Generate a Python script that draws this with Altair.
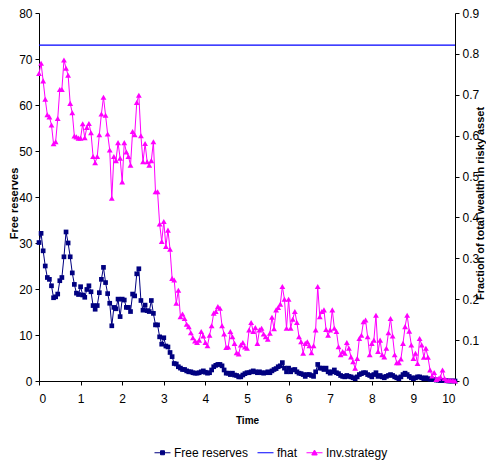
import altair as alt
import pandas as pd

time_step = 0.05

free_reserves = [
    30.1, 32.1, 28.3, 25.0, 22.5, 22.1, 20.7, 18.1, 18.3, 18.9,
    21.8, 22.5, 27.0, 32.4, 30.0, 27.0, 23.5, 21.0, 19.1, 18.8,
    20.5, 18.7, 18.2, 19.9, 20.7, 19.4, 16.4, 15.6, 16.4, 19.2,
    22.1, 24.7, 21.4, 19.0, 16.9, 12.0, 16.0, 15.7, 17.8, 14.0,
    17.8, 17.6, 16.0, 16.0, 15.1, 18.9, 18.5, 23.3, 24.4, 17.5,
    15.4, 16.5, 15.3, 15.1, 17.5, 14.7, 12.2, 12.2, 9.6, 8.0,
    9.4, 7.6, 7.4, 6.2, 5.3, 3.8, 3.7, 3.1, 2.8, 2.5,
    2.5, 2.2, 2.0, 2.0, 1.8, 1.7, 1.7, 1.8, 2.0, 2.2,
    1.9, 1.7, 1.8, 2.4, 3.1, 3.4, 3.6, 3.6, 3.3, 2.4,
    1.7, 1.7, 1.4, 1.7, 1.3, 1.2, 0.9, 0.9, 1.3, 1.6,
    1.8, 1.8, 2.0, 2.2, 2.0, 1.8, 2.0, 1.8, 1.7, 1.8,
    2.0, 1.8, 2.2, 2.5, 2.7, 3.1, 3.3, 4.0, 2.8, 2.0,
    2.8, 2.0, 2.4, 2.5, 2.0, 1.7, 1.6, 1.4, 1.0, 1.4,
    1.4, 1.2, 1.0, 2.0, 3.6,
    2.8, 2.8, 2.5, 2.8, 2.0, 1.7, 2.0, 2.4, 1.8, 1.6,
    1.2, 1.0, 0.9, 1.2, 1.0, 0.9, 0.7, 0.5, 0.9, 1.4,
    1.6, 1.8, 1.8, 1.4, 1.2, 0.9, 1.4, 1.8, 1.0, 1.2,
    0.9, 0.7, 1.0, 1.2, 1.4, 1.2, 0.9, 0.7, 0.5, 0.9,
    1.4, 1.7, 1.4, 1.0, 0.7, 0.5, 0.7, 0.9, 0.9, 0.7,
    0.5, 0.7, 0.5,
    0.4, 0.3, 0.3, 0.2, 0.2, 0.1, 0.1, 0.1, 0.05, 0.0,
    0.0, 0.0, 0.0,
]

inv_strategy = [
    0.752, 0.777, 0.734, 0.689, 0.651, 0.646, 0.626, 0.580, 0.585, 0.642,
    0.713, 0.713, 0.785, 0.765, 0.748, 0.679, 0.656, 0.599, 0.597, 0.594,
    0.594, 0.629, 0.595, 0.620, 0.630, 0.607, 0.549, 0.534, 0.549, 0.602,
    0.653, 0.694, 0.650, 0.604, 0.565, 0.447, 0.549, 0.539, 0.583, 0.545,
    0.487, 0.583, 0.560, 0.549, 0.528, 0.610, 0.602, 0.681, 0.699, 0.600,
    0.536, 0.581, 0.536, 0.528, 0.539, 0.585, 0.463, 0.463, 0.384, 0.341,
    0.390, 0.329, 0.369, 0.322, 0.251, 0.247, 0.190, 0.222, 0.157, 0.164,
    0.153, 0.139, 0.133, 0.118, 0.106, 0.098, 0.094, 0.100, 0.121, 0.110,
    0.094, 0.086, 0.112, 0.135, 0.166, 0.170, 0.182, 0.178, 0.135, 0.115,
    0.082, 0.083, 0.121, 0.108, 0.092, 0.069, 0.066, 0.088, 0.094, 0.083,
    0.080, 0.125, 0.143, 0.121, 0.131, 0.092, 0.125, 0.129, 0.115, 0.108,
    0.102, 0.117, 0.156, 0.128, 0.174, 0.180, 0.188, 0.231, 0.200, 0.129,
    0.200, 0.129, 0.151, 0.170, 0.143, 0.108, 0.096, 0.068, 0.092, 0.096,
    0.086, 0.069, 0.086, 0.125, 0.231, 0.157, 0.170, 0.174, 0.126, 0.112,
    0.125, 0.174, 0.129, 0.121, 0.084, 0.064, 0.072, 0.068, 0.094, 0.080,
    0.059, 0.047, 0.031, 0.055, 0.104, 0.112, 0.145, 0.149, 0.108, 0.064,
    0.092, 0.100, 0.161, 0.072, 0.100, 0.064, 0.059, 0.080, 0.118, 0.153,
    0.110, 0.064, 0.045, 0.045, 0.054, 0.092, 0.133, 0.161, 0.122, 0.088,
    0.055, 0.068, 0.043, 0.104, 0.088, 0.058, 0.080, 0.058, 0.027, 0.012,
    0.021, 0.004, 0.006, 0.010, 0.027, 0.006, 0.002, 0.002, 0.001, 0.001,
    0.000,
]

fhat_value = [73.0]

series_names = ["Free reserves", "fhat", "Inv.strategy"]
series_colors = ["#000080", "#0000FF", "#FF00FF"]
legend_shapes = [
    "M-1,0L1,0M-0.25,-0.25L0.25,-0.25L0.25,0.25L-0.25,0.25Z",
    "M-1,0L1,0",
    "M-1,0L1,0M-0.34,0.28L0,-0.34L0.34,0.28Z",
]

x_ticks = list(range(0, 11))
left_ticks = list(range(0, 81, 10))
right_ticks = [round(0.1 * i, 1) for i in range(10)]

fr_df = pd.DataFrame({
    "time": [round(i * time_step, 2) for i in range(len(free_reserves))],
    "value": free_reserves,
})
inv_df = pd.DataFrame({
    "time": [round(i * time_step, 2) for i in range(len(inv_strategy))],
    "value": inv_strategy,
})
fhat_df = pd.DataFrame({"value": fhat_value})
legend_df = pd.DataFrame({"series": series_names})

LABEL_FONT = "Liberation Sans Narrow, Arial Narrow, Liberation Sans, Arial"
TITLE_FONT = "Liberation Sans, Arial"

x_axis = alt.Axis(
    values=x_ticks, title="Time", format="d",
    labelPadding=8, tickSize=4,
    titleX=208, titleY=39, titleBaseline="middle", titleFontSize=10,
)
x_enc = alt.X("time:Q", scale=alt.Scale(domain=[0, 10], nice=False), axis=x_axis)

left_scale = alt.Scale(domain=[0, 80], nice=False)
left_axis = alt.Axis(
    orient="left", values=left_ticks, title="Free reserves",
    tickSize=4, labelPadding=3,
    titleAngle=270, titleAlign="center", titleBaseline="middle",
    titleX=-25, titleY=190,
)
right_scale = alt.Scale(domain=[0, 0.9], nice=False)
right_axis = alt.Axis(
    orient="right", values=right_ticks, format=".1~f",
    title="Fraction of total wealth in risky asset",
    tickSize=4, labelPadding=3, titleFontSize=11,
    titleAngle=270, titleAlign="center", titleBaseline="middle",
    titleX=25.5, titleY=190,
)

y_left = alt.Y("value:Q", scale=left_scale, axis=left_axis)
y_right = alt.Y("value:Q", scale=right_scale, axis=right_axis)

fr_line = alt.Chart(fr_df).mark_line(color="#000080", strokeWidth=1).encode(x=x_enc, y=y_left)
fr_points = alt.Chart(fr_df).mark_point(
    shape="square", filled=True, size=22, color="#000080", opacity=1
).encode(x=x_enc, y=y_left)
fhat_rule = alt.Chart(fhat_df).mark_rule(color="#0000FF", strokeWidth=1.2).encode(y=y_left)

legend_def = alt.Legend(
    title=None, orient="none", legendX=115, legendY=431, direction="horizontal",
    symbolSize=256, symbolStrokeWidth=1, labelFont=LABEL_FONT, labelFontSize=12,
    labelColor="black", columnPadding=6, labelOffset=3, padding=0,
)
legend_layer = alt.Chart(legend_df).mark_point(
    filled=True, opacity=1, strokeWidth=1
).encode(
    color=alt.Color("series:N", scale=alt.Scale(domain=series_names, range=series_colors), legend=legend_def),
    stroke=alt.Stroke("series:N", scale=alt.Scale(domain=series_names, range=series_colors), legend=legend_def),
    shape=alt.Shape("series:N", scale=alt.Scale(domain=series_names, range=legend_shapes), legend=legend_def),
).transform_filter("false")

inv_line = alt.Chart(inv_df).mark_line(color="#FF00FF", strokeWidth=1).encode(x=x_enc, y=y_right)
inv_points = alt.Chart(inv_df).mark_point(
    shape="triangle-up", filled=True, size=34, color="#FF00FF", opacity=1
).encode(x=x_enc, y=y_right)

left = alt.layer(fr_line, fr_points, fhat_rule, legend_layer)
right = alt.layer(inv_line, inv_points)

chart = alt.layer(left, right).resolve_scale(y="independent").properties(
    width=416, height=368,
    autosize=alt.AutoSizeParams(type="none"),
    padding={"left": 39, "top": 13, "right": 31, "bottom": 80},
).configure_view(stroke=None).configure_axis(
    grid=False, domainColor="black", tickColor="black", labelColor="black",
    titleColor="black", labelFont=LABEL_FONT, labelFontSize=12,
    titleFont=TITLE_FONT, titleFontSize=11, titleFontWeight="bold",
    domainWidth=1, tickWidth=1,
)

chart.save("out.html", embed_options={"renderer": "svg", "actions": False})
